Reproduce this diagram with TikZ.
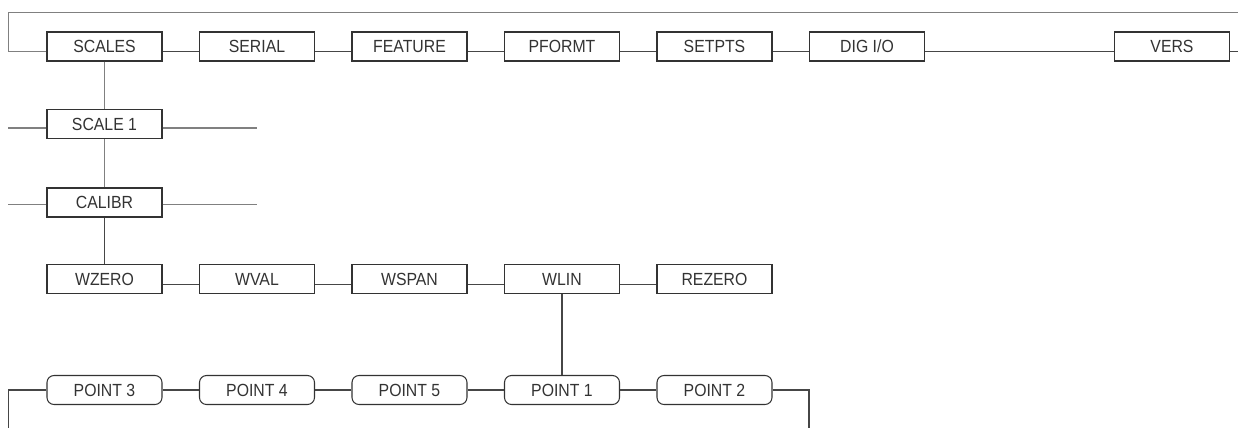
\documentclass[tikz,border=0pt]{standalone}
\usepackage{fontspec}
\setmainfont{Liberation Sans}[FakeStretch=0.9]
\usepackage{xcolor}
\usepackage{tikz}
\usetikzlibrary{positioning, calc}
\definecolor{menuInk}{RGB}{51,51,51}
\definecolor{menuLine}{RGB}{70,70,70}
\definecolor{menuGrey}{RGB}{128,128,128}

\begin{document}
\begin{tikzpicture}[
    menubox/.style={draw=menuInk, fill=white, rectangle, line width=0.6pt, inner sep=0pt, font=\fontsize{10}{12}\selectfont, text=menuInk, minimum width=2.3cm, minimum height=0.58cm},
    pointbox/.style={menubox, rounded corners=4pt},
    link/.style={draw=menuLine, line width=0.6pt},
    thin link/.style={draw=menuGrey, line width=0.6pt}
]
\useasboundingbox (0,0) rectangle (24.76,8.56);

% Free ends
\coordinate (loopL) at (0.17,8.31);
\coordinate (loopR) at (24.76,8.31);
\coordinate (leftEdge) at (0.17,0);
\coordinate (rightEdge) at (24.76,0);
\coordinate (sideR) at (5.14,0);
\coordinate (ptR) at (16.18,0);

% Top menu
\node (scl) [menubox] at (2.09, 7.63) {SCALES};
\node (ser) [menubox] at (5.14, 7.63) {SERIAL};
\node (fea) [menubox] at (8.19, 7.63) {FEATURE};
\node (pfm) [menubox] at (11.24, 7.63) {PFORMT};
\node (stp) [menubox] at (14.29, 7.63) {SETPTS};
\node (dig) [menubox] at (17.34, 7.63) {DIG I/O};
\node (vrs) [menubox] at (23.44, 7.63) {VERS};

% Scale 1 / Calibr
\node (sc1) [menubox] at (2.09, 6.08) {SCALE 1};
\node (cal) [menubox] at (2.09, 4.51) {CALIBR};

% Calibration menu
\node (wze) [menubox] at (2.09, 2.98) {WZERO};
\node (wva) [menubox] at (5.14, 2.98) {WVAL};
\node (wsp) [menubox] at (8.19, 2.98) {WSPAN};
\node (wli) [menubox] at (11.24, 2.98) {WLIN};
\node (rez) [menubox] at (14.29, 2.98) {REZERO};

% Linearization points
\node (pt3) [pointbox] at (2.09, 0.76) {POINT 3};
\node (pt4) [pointbox] at (5.14, 0.76) {POINT 4};
\node (pt5) [pointbox] at (8.19, 0.76) {POINT 5};
\node (pt1) [pointbox] at (11.24, 0.76) {POINT 1};
\node (pt2) [pointbox] at (14.29, 0.76) {POINT 2};

% Top row links
\draw [thin link] ([yshift=-1mm]scl.west) -| (loopL) -- (loopR);
\draw [link] ([yshift=-1mm]scl.east) -- ([yshift=-1mm]ser.west);
\draw [link] ([yshift=-1mm]ser.east) -- ([yshift=-1mm]fea.west);
\draw [link] ([yshift=-1mm]fea.east) -- ([yshift=-1mm]pfm.west);
\draw [link] ([yshift=-1mm]pfm.east) -- ([yshift=-1mm]stp.west);
\draw [link] ([yshift=-1mm]stp.east) -- ([yshift=-1mm]dig.west);
\draw [link] ([yshift=-1mm]dig.east) -- ([yshift=-1mm]vrs.west);
\draw [link] ([yshift=-1mm]vrs.east) -- ([yshift=-1mm]vrs.east -| rightEdge);

% Down the scales branch
\draw [thin link] (scl.south) -- (sc1.north);
\draw [thin link] ([yshift=-0.8mm]sc1.west) -- ([yshift=-0.8mm]sc1.west -| leftEdge);
\draw [thin link] ([yshift=-0.8mm]sc1.east) -- ([yshift=-0.8mm]sc1.east -| sideR);
\draw [thin link] (sc1.south) -- (cal.north);
\draw [thin link] ([yshift=-0.4mm]cal.west) -- ([yshift=-0.4mm]cal.west -| leftEdge);
\draw [thin link] ([yshift=-0.4mm]cal.east) -- ([yshift=-0.4mm]cal.east -| sideR);
\draw [link] (cal.south) -- (wze.north);

% Calibration row links
\draw [link] ([yshift=-1.1mm]wze.east) -- ([yshift=-1.1mm]wva.west);
\draw [link] ([yshift=-1.1mm]wva.east) -- ([yshift=-1.1mm]wsp.west);
\draw [link] ([yshift=-1.1mm]wsp.east) -- ([yshift=-1.1mm]wli.west);
\draw [link] ([yshift=-1.1mm]wli.east) -- ([yshift=-1.1mm]rez.west);
\draw [link] (wli.south) -- (pt1.north);

% Point row links
\draw [link] (pt3.west) -| (leftEdge);
\draw [link] (pt3.east) -- (pt4.west);
\draw [link] (pt4.east) -- (pt5.west);
\draw [link] (pt5.east) -- (pt1.west);
\draw [link] (pt1.east) -- (pt2.west);
\draw [link] (pt2.east) -| (ptR);

\end{tikzpicture}
\end{document}
